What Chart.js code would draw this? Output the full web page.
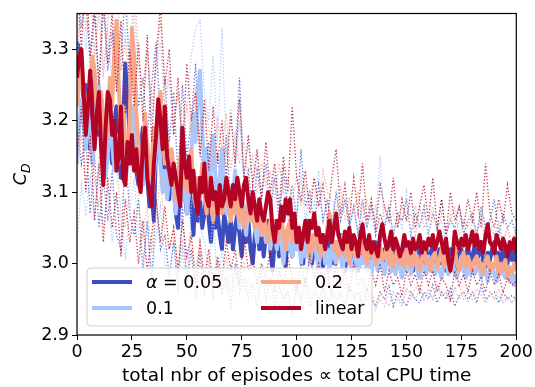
<!DOCTYPE html>
<html><head><meta charset="utf-8">
<script src="https://cdn.jsdelivr.net/npm/chart.js@4.4.1/dist/chart.umd.min.js"></script>
<style>html,body{margin:0;padding:0;background:#fff}#wrap{width:535px;height:387px;position:relative}</style>
</head><body><div id="wrap"><canvas id="c" width="535" height="387"></canvas></div>
<script>
// x values of the mean curves (every episode)
const episodes = [0,1,2,3,4,5,6,7,8,9,10,11,12,13,14,15,16,17,18,19,20,21,22,23,24,25,26,27,28,29,30,31,32,33,34,35,36,37,38,39,40,41,42,43,44,45,46,47,48,49,50,51,52,53,54,55,56,57,58,59,60,61,62,63,64,65,66,67,68,69,70,71,72,73,74,75,76,77,78,79,80,81,82,83,84,85,86,87,88,89,90,91,92,93,94,95,96,97,98,99,100,101,102,103,104,105,106,107,108,109,110,111,112,113,114,115,116,117,118,119,120,121,122,123,124,125,126,127,128,129,130,131,132,133,134,135,136,137,138,139,140,141,142,143,144,145,146,147,148,149,150,151,152,153,154,155,156,157,158,159,160,161,162,163,164,165,166,167,168,169,170,171,172,173,174,175,176,177,178,179,180,181,182,183,184,185,186,187,188,189,190,191,192,193,194,195,196,197,198,199,200];
// x values of the dotted min/max curves
const episodesDotted = [0,2,4,6,8,10,12,14,16,18,20,22,24,26,28,30,32,34,36,38,40,42,44,46,48,50,52,54,56,58,60,62,64,66,68,70,72,74,76,78,80,82,84,86,88,90,92,94,96,98,100,102,104,106,108,110,112,114,116,118,120,122,124,126,128,130,132,134,136,138,140,142,144,146,148,150,152,154,156,158,160,162,164,166,168,170,172,174,176,178,180,182,184,186,188,190,192,194,196,198,200];
const seriesNames = ['α = 0.05', '0.1', '0.2', 'linear'];
const xTicks = [0,25,50,75,100,125,150,175,200];
const yTicks = [2.9,3.0,3.1,3.2,3.3];

// alpha = 0.05
const mean005 = [3.31,3.30,3.28,3.22,3.25,3.19,3.16,3.23,3.26,3.20,
3.18,3.23,3.15,3.19,3.22,3.17,3.14,3.20,3.22,3.16,
3.12,3.20,3.28,3.23,3.18,3.14,3.17,3.13,3.11,3.16,
3.19,3.14,3.12,3.08,3.10,3.06,3.17,3.21,3.15,3.12,
3.16,3.13,3.09,3.14,3.11,3.07,3.05,3.12,3.19,3.10,
3.07,3.12,3.08,3.04,3.10,3.06,3.09,3.05,3.07,3.10,
3.06,3.03,3.08,3.05,3.07,3.04,3.02,3.07,3.05,3.03,
3.06,3.02,3.05,3.07,3.04,3.01,3.05,3.03,3.06,3.02,
3.00,3.04,3.06,3.02,3.05,3.01,3.04,3.06,3.02,2.99,
3.03,3.05,3.01,3.04,3.02,2.995,3.05,3.03,3.01,3.04,
3.02,3.05,3.03,3.00,3.04,3.06,3.02,3.00,3.03,3.01,
3.04,3.02,2.995,3.03,3.01,3.04,3.02,3.00,3.03,3.01,
3.04,3.02,2.99,3.02,3.04,3.00,3.02,3.01,2.99,3.03,
3.01,3.03,3.00,3.02,2.99,3.01,3.03,2.995,3.015,3.00,
3.02,3.00,3.03,2.99,3.01,3.02,2.995,3.015,3.00,3.025,
3.00,3.02,3.005,2.99,3.015,3.00,3.025,3.005,2.995,3.02,
3.00,3.015,3.025,2.995,3.01,3.02,3.00,3.015,2.99,3.005,
3.02,3.00,2.99,3.015,3.005,3.02,2.995,3.01,3.025,3.00,
3.01,3.025,3.00,3.015,3.03,3.00,2.995,3.015,3.005,3.02,
3.03,3.00,3.015,2.995,3.02,3.01,3.00,3.025,3.005,3.015,
3.00];
const max005 = [3.42,3.33,3.37,3.28,3.35,3.24,3.36,3.27,3.32,3.25,
3.29,3.38,3.27,3.30,3.22,3.26,3.18,3.25,3.31,3.20,
3.26,3.17,3.24,3.12,3.25,3.15,3.20,3.28,3.16,3.12,
3.17,3.09,3.15,3.10,3.18,3.08,3.14,3.26,3.11,3.13,
3.07,3.13,3.09,3.14,3.07,3.12,3.06,3.13,3.08,3.11,
3.06,3.16,3.08,3.10,3.05,3.11,3.06,3.09,3.05,3.10,
3.06,3.09,3.05,3.08,3.04,3.09,3.05,3.08,3.04,3.07,
3.05,3.08,3.04,3.07,3.06,3.09,3.04,3.07,3.05,3.08,
3.04,3.07,3.05,3.09,3.04,3.06,3.05,3.08,3.04,3.06,
3.07,3.04,3.08,3.05,3.06,3.09,3.04,3.07,3.05,3.06,
3.04];
const min005 = [3.20,3.14,3.18,3.07,3.15,3.05,3.12,3.06,3.13,3.04,
3.02,3.16,3.07,3.04,3.09,2.99,3.06,2.97,3.09,3.02,
3.04,2.98,3.03,2.96,3.08,2.97,3.02,2.95,3.01,2.96,
2.99,2.95,3.00,2.96,2.98,2.94,3.00,2.96,2.98,2.95,
2.97,2.94,2.99,2.95,2.98,2.94,2.97,2.95,2.96,2.93,
2.97,2.95,2.98,2.94,2.96,2.95,2.97,2.94,2.96,2.95,
2.96,2.94,2.97,2.95,2.96,2.94,2.965,2.95,2.94,2.96,
2.95,2.97,2.94,2.96,2.95,2.94,2.96,2.95,2.945,2.96,
2.95,2.97,2.945,2.96,2.95,2.965,2.94,2.955,2.96,2.95,
2.96,2.945,2.97,2.95,2.955,2.96,2.945,2.96,2.95,2.955,
2.95];

// alpha = 0.1
const mean01 = [3.14,3.19,3.23,3.20,3.16,3.21,3.18,3.14,3.17,3.22,
3.25,3.20,3.16,3.12,3.15,3.21,3.17,3.13,3.18,3.14,
3.19,3.15,3.11,3.14,3.18,3.22,3.19,3.15,3.12,3.16,
3.11,3.14,3.17,3.13,3.09,3.12,3.16,3.19,3.14,3.10,
3.13,3.09,3.12,3.15,3.10,3.07,3.11,3.14,3.09,3.12,
3.07,3.10,3.15,3.21,3.17,3.24,3.27,3.19,3.13,3.16,
3.10,3.13,3.18,3.12,3.08,3.12,3.16,3.10,3.07,3.11,
3.06,3.09,3.13,3.08,3.05,3.10,3.07,3.04,3.08,3.06,
3.09,3.05,3.03,3.07,3.04,3.06,3.03,3.05,3.02,3.06,
3.04,3.02,3.05,3.03,3.00,3.04,3.02,3.05,3.01,3.03,
3.02,3.04,3.00,3.03,3.01,3.035,3.00,3.02,3.04,3.01,
2.995,3.02,3.035,3.00,3.02,2.99,3.025,3.01,3.00,3.03,
3.01,2.99,3.02,3.005,3.015,2.99,3.00,3.025,2.995,3.01,
3.00,3.02,2.99,3.005,2.985,3.01,3.00,2.99,3.015,3.00,
2.985,3.005,3.015,2.99,3.00,2.985,3.01,2.995,2.98,3.00,
2.99,3.01,2.985,3.00,3.015,2.99,2.98,3.00,2.995,2.985,
3.01,2.99,3.00,2.985,3.005,2.99,2.98,3.00,3.01,2.985,
2.99,3.005,2.985,2.98,2.995,3.01,2.99,2.98,2.995,2.985,
3.00,2.985,2.99,3.005,2.98,2.995,2.99,2.975,2.99,3.00,
2.985,2.975,2.995,2.985,2.99,2.98,2.995,2.975,2.985,2.97,
2.985];
const max01 = [3.28,3.36,3.30,3.38,3.29,3.40,3.27,3.33,3.25,3.31,
3.27,3.33,3.24,3.36,3.26,3.22,3.30,3.20,3.27,3.31,
3.21,3.26,3.18,3.24,3.17,3.22,3.29,3.33,3.34,3.24,
3.20,3.29,3.17,3.33,3.15,3.22,3.13,3.20,3.12,3.17,
3.11,3.15,3.10,3.14,3.08,3.13,3.07,3.12,3.06,3.11,
3.07,3.12,3.06,3.10,3.08,3.13,3.06,3.09,3.05,3.10,
3.06,3.09,3.05,3.08,3.04,3.09,3.05,3.08,3.06,3.15,
3.05,3.08,3.04,3.07,3.05,3.10,3.04,3.08,3.05,3.07,
3.04,3.07,3.05,3.06,3.03,3.07,3.04,3.06,3.05,3.03,
3.06,3.04,3.07,3.03,3.06,3.04,3.05,3.03,3.05,3.02,
3.04];
const min01 = [3.03,3.11,3.07,3.12,3.06,3.15,3.05,3.10,3.03,3.09,
3.06,3.01,3.07,3.12,3.04,3.00,3.06,2.98,3.04,3.08,
3.00,2.98,3.03,2.97,3.02,2.96,3.08,3.13,3.05,3.03,
2.99,3.07,2.97,3.02,2.96,3.00,2.95,2.99,2.96,2.98,
2.95,2.98,2.94,2.97,2.95,2.96,2.94,2.97,2.95,2.93,
2.96,2.94,2.97,2.95,2.96,2.93,2.97,2.95,2.96,2.94,
2.96,2.94,2.97,2.95,2.96,2.94,2.95,2.96,2.935,2.95,
2.94,2.96,2.945,2.95,2.94,2.965,2.96,2.95,2.965,2.95,
2.96,2.95,2.97,2.955,2.96,2.945,2.965,2.95,2.96,2.945,
2.96,2.95,2.965,2.945,2.96,2.95,2.955,2.945,2.95,2.945,
2.955];

// alpha = 0.2
const mean02 = [3.22,3.25,3.28,3.24,3.19,3.23,3.26,3.29,3.27,3.21,
3.19,3.24,3.20,3.16,3.21,3.26,3.22,3.30,3.34,3.25,
3.18,3.22,3.17,3.14,3.20,3.33,3.29,3.21,3.17,3.13,
3.15,3.21,3.16,3.12,3.14,3.19,3.16,3.22,3.24,3.18,
3.14,3.17,3.12,3.16,3.13,3.09,3.12,3.15,3.11,3.14,
3.10,3.13,3.16,3.11,3.08,3.12,3.09,3.14,3.10,3.07,
3.12,3.09,3.06,3.10,3.08,3.11,3.07,3.09,3.12,3.08,
3.06,3.09,3.07,3.10,3.06,3.08,3.05,3.07,3.09,3.06,
3.07,3.05,3.08,3.06,3.04,3.07,3.05,3.03,3.06,3.04,
3.06,3.03,3.05,3.07,3.04,3.02,3.05,3.06,3.03,3.05,
3.03,3.05,3.02,3.04,3.06,3.03,3.01,3.04,3.02,3.05,
3.03,3.01,3.04,3.02,3.05,3.07,3.04,3.02,3.03,3.01,
3.02,3.04,3.01,3.03,3.00,3.02,3.035,3.01,3.03,3.015,
3.035,3.01,3.00,3.025,3.01,3.03,3.00,3.015,3.025,3.005,
3.01,3.025,3.00,3.02,2.995,3.01,3.02,3.00,3.015,2.995,
3.02,3.005,2.995,3.015,3.00,3.01,2.99,3.005,3.02,3.00,
3.005,2.99,3.01,3.015,2.995,3.005,3.02,2.995,3.01,3.00,
2.99,3.01,3.02,3.00,2.99,3.005,3.015,2.995,3.01,3.00,
2.99,3.005,3.01,2.995,3.00,2.985,3.005,3.01,2.99,3.00,
2.995,3.01,2.985,3.00,2.99,3.005,2.98,2.995,2.985,3.00,
2.99];
const max02 = [3.30,3.38,3.33,3.40,3.29,3.35,3.26,3.34,3.39,3.42,
3.27,3.31,3.24,3.41,3.28,3.25,3.30,3.22,3.28,3.34,
3.23,3.27,3.20,3.24,3.17,3.22,3.18,3.25,3.16,3.22,
3.19,3.14,3.20,3.16,3.21,3.13,3.18,3.14,3.17,3.12,
3.15,3.10,3.14,3.11,3.13,3.09,3.14,3.10,3.12,3.09,
3.12,3.08,3.11,3.09,3.12,3.08,3.13,3.10,3.09,3.07,
3.11,3.06,3.09,3.07,3.10,3.06,3.09,3.06,3.08,3.05,
3.08,3.06,3.07,3.05,3.08,3.06,3.07,3.04,3.08,3.05,
3.06,3.08,3.04,3.07,3.05,3.06,3.08,3.04,3.06,3.05,
3.07,3.04,3.06,3.03,3.05,3.04,3.06,3.03,3.05,3.03,
3.05];
const min02 = [3.13,3.18,3.10,3.16,3.12,3.08,3.13,3.17,3.22,3.14,
3.07,3.05,3.10,3.21,3.09,3.04,3.08,3.02,3.07,3.12,
3.04,3.02,3.05,2.99,3.03,2.98,3.04,2.99,3.03,2.97,
3.01,2.96,3.00,2.98,3.01,2.96,2.99,2.97,3.00,2.96,
2.98,2.96,2.97,2.95,2.98,2.96,2.97,2.95,2.98,2.96,
2.97,2.95,2.98,2.96,2.97,2.95,2.96,2.98,2.95,2.96,
2.95,2.97,2.95,2.96,2.94,2.97,2.95,2.96,2.94,2.96,
2.95,2.94,2.96,2.95,2.945,2.965,2.95,2.965,2.97,2.95,
2.965,2.95,2.97,2.955,2.96,2.95,2.965,2.97,2.95,2.96,
2.95,2.965,2.955,2.945,2.96,2.95,2.965,2.945,2.955,2.945,
2.95];

// linear
const meanLin = [3.26,3.29,3.30,3.24,3.18,3.22,3.27,3.21,3.16,3.21,
3.24,3.16,3.11,3.19,3.24,3.23,3.18,3.20,3.13,3.15,
3.22,3.12,3.11,3.17,3.14,3.18,3.13,3.16,3.12,3.10,
3.17,3.19,3.12,3.10,3.08,3.14,3.18,3.23,3.20,3.16,
3.22,3.15,3.13,3.11,3.14,3.12,3.10,3.08,3.19,3.14,
3.12,3.15,3.10,3.13,3.09,3.07,3.12,3.10,3.14,3.09,
3.08,3.12,3.09,3.10,3.07,3.11,3.08,3.09,3.12,3.10,
3.08,3.11,3.09,3.12,3.10,3.08,3.11,3.12,3.09,3.07,
3.10,3.08,3.06,3.09,3.07,3.06,3.08,3.10,3.09,3.05,
3.03,3.06,3.05,3.08,3.06,3.09,3.07,3.09,3.05,3.07,
3.03,3.05,3.02,3.04,3.06,3.03,3.06,3.05,3.07,3.04,
3.05,3.03,3.04,3.02,3.04,3.06,3.03,3.05,3.07,3.04,
3.03,3.02,3.045,3.03,3.05,3.02,3.04,3.03,3.01,3.04,
3.055,3.03,3.02,3.04,3.015,3.03,3.02,3.01,3.04,3.055,
3.035,3.02,3.03,3.045,3.02,3.035,3.025,3.01,3.02,3.04,
3.025,3.03,3.015,3.035,3.02,3.025,3.04,3.015,3.03,3.02,
3.035,3.025,3.04,3.02,3.03,3.045,3.03,3.015,3.035,3.005,
2.99,3.01,3.045,3.03,3.02,3.035,3.025,3.04,3.02,3.03,
3.045,3.025,3.04,3.02,3.03,3.015,3.04,3.055,3.03,3.025,
3.015,3.04,3.03,3.02,3.035,3.025,3.01,3.03,3.02,3.035,
3.015];
const maxLin = [3.40,3.30,3.42,3.29,3.36,3.25,3.38,3.28,3.35,3.24,
3.34,3.21,3.30,3.22,3.31,3.20,3.32,3.17,3.29,3.36,
3.25,3.30,3.18,3.26,3.16,3.28,3.20,3.24,3.15,3.23,
3.13,3.22,3.14,3.20,3.12,3.21,3.14,3.23,3.12,3.18,
3.11,3.16,3.09,3.17,3.10,3.14,3.08,3.15,3.10,3.22,
3.12,3.09,3.13,3.07,3.12,3.08,3.11,3.06,3.12,3.16,
3.07,3.11,3.06,3.12,3.07,3.14,3.06,3.09,3.05,3.11,
3.08,3.06,3.12,3.05,3.09,3.06,3.10,3.05,3.08,3.11,
3.06,3.12,3.05,3.09,3.04,3.10,3.06,3.08,3.05,3.09,
3.06,3.10,3.05,3.14,3.07,3.05,3.09,3.06,3.11,3.07,
3.06];
const minLin = [3.15,3.22,3.10,3.18,3.06,3.14,3.03,3.12,3.05,3.10,
3.01,3.09,3.03,3.07,3.00,3.06,2.99,3.04,3.09,3.03,
3.08,3.02,3.05,2.99,3.06,3.01,3.04,2.97,3.03,2.98,
3.02,2.97,3.01,2.98,3.03,2.99,3.02,2.97,3.04,2.99,
3.01,2.97,3.00,2.98,3.02,2.96,2.99,2.97,3.01,2.98,
2.96,3.00,2.97,3.01,2.98,3.00,2.97,2.99,2.96,3.00,
2.97,2.99,2.96,3.00,2.97,2.98,2.96,2.99,2.97,3.00,
2.96,2.99,2.97,2.98,2.955,2.99,2.97,2.985,2.96,2.99,
2.97,2.99,2.96,2.98,2.97,2.95,2.99,2.97,2.985,2.96,
2.99,2.97,2.98,2.96,2.99,2.97,2.985,2.96,2.98,2.97,
2.975];

const colors = ['#3b4cc0', '#aac7fd', '#f7a889', '#b40426'];
const dotColors = ['rgba(59,76,192,0.8)', 'rgba(170,199,253,0.9)', 'rgba(247,168,137,0.9)', 'rgba(180,4,38,0.8)'];
const meanSets = [mean005, mean01, mean02, meanLin];
const maxSets = [max005, max01, max02, maxLin];
const minSets = [min005, min01, min02, minLin];

const pts = (xs, arr) => xs.map((e, i) => ({x: e, y: arr[i]}));
let datasets = [];
for (let s = 0; s < 4; s++) {
  datasets.push({label: seriesNames[s], data: pts(episodes, meanSets[s]), borderColor: colors[s], borderWidth: 4, pointRadius: 0, tension: 0, clip: 0, borderJoinStyle: 'round'});
  datasets.push({label: seriesNames[s] + ' max', data: pts(episodesDotted, maxSets[s]), borderColor: dotColors[s], borderWidth: 1.3, borderDash: [1.3, 2.0], pointRadius: 0, tension: 0, clip: 0});
  datasets.push({label: seriesNames[s] + ' min', data: pts(episodesDotted, minSets[s]), borderColor: dotColors[s], borderWidth: 1.3, borderDash: [1.3, 2.0], pointRadius: 0, tension: 0, clip: 0});
}
datasets = datasets.reverse();

const FONT = "'DejaVu Sans', sans-serif";
const extras = {
  id: 'extras',
  afterDatasetsDraw(chart) {
    const ctx = chart.ctx, a = chart.chartArea;
    ctx.save();
    ctx.strokeStyle = '#000'; ctx.lineWidth = 1.2;
    ctx.strokeRect(a.left, a.top, a.right - a.left, a.bottom - a.top);
    const bx = 87, by = 268, bw = 285, bh = 58, r = 4;
    ctx.beginPath();
    ctx.moveTo(bx + r, by); ctx.lineTo(bx + bw - r, by); ctx.quadraticCurveTo(bx + bw, by, bx + bw, by + r);
    ctx.lineTo(bx + bw, by + bh - r); ctx.quadraticCurveTo(bx + bw, by + bh, bx + bw - r, by + bh);
    ctx.lineTo(bx + r, by + bh); ctx.quadraticCurveTo(bx, by + bh, bx, by + bh - r);
    ctx.lineTo(bx, by + r); ctx.quadraticCurveTo(bx, by, bx + r, by);
    ctx.closePath();
    ctx.fillStyle = 'rgba(255,255,255,0.8)'; ctx.fill();
    ctx.strokeStyle = '#d0d0d0'; ctx.lineWidth = 1; ctx.stroke();
    const entries = [[0, 92, 282], [1, 92, 308], [2, 261, 282], [3, 261, 308]];
    ctx.textBaseline = 'middle';
    for (const [s, lx, ly] of entries) {
      ctx.strokeStyle = colors[s]; ctx.lineWidth = 4; ctx.setLineDash([]);
      ctx.beginPath(); ctx.moveTo(lx, ly); ctx.lineTo(lx + 40, ly); ctx.stroke();
      ctx.fillStyle = '#000';
      let tx = lx + 54;
      if (s === 0) {
        ctx.font = "italic 17.5px " + FONT;
        ctx.fillText('α', tx, ly + 1);
        tx += ctx.measureText('α').width;
        ctx.font = "17.5px " + FONT;
        ctx.fillText(' = 0.05', tx, ly + 1);
      } else {
        ctx.font = "17.5px " + FONT;
        ctx.fillText(seriesNames[s], tx, ly + 1);
      }
    }
    ctx.translate(26, (a.top + a.bottom) / 2);
    ctx.rotate(-Math.PI / 2);
    ctx.textBaseline = 'alphabetic';
    ctx.font = "italic 17.5px " + FONT;
    const wC = ctx.measureText('C').width;
    ctx.font = "italic 12.5px " + FONT;
    const wD = ctx.measureText('D').width;
    const x0 = -(wC + wD) / 2;
    ctx.font = "italic 17.5px " + FONT;
    ctx.fillText('C', x0, 0);
    ctx.font = "italic 12.5px " + FONT;
    ctx.fillText('D', x0 + wC, 4);
    ctx.restore();
  }
};

new Chart(document.getElementById('c'), {
  type: 'line',
  data: {datasets},
  options: {
    responsive: false, animation: false, devicePixelRatio: 1,
    layout: {padding: {left: 0, top: 8, right: 17, bottom: 0}},
    plugins: {legend: {display: false}, tooltip: {enabled: false}},
    scales: {
      x: {
        type: 'linear', min: 0, max: 200,
        afterFit(axis) { axis.height = 52; },
        afterBuildTicks(axis) { axis.ticks = xTicks.map(v => ({value: v})); },
        grid: {display: true, drawOnChartArea: false, drawTicks: true, tickLength: 5, color: '#000', lineWidth: 1},
        border: {display: false},
        ticks: {color: '#000', font: {family: FONT, size: 17.5}, padding: 2, maxRotation: 0, autoSkip: false},
        title: {display: true, text: 'total nbr of episodes \u221d total CPU time', color: '#000', font: {family: FONT, size: 18.5}, padding: {top: 0, bottom: 0}}
      },
      y: {
        type: 'linear', min: 2.9, max: 3.35,
        afterFit(axis) { axis.width = 77; },
        afterBuildTicks(axis) { axis.ticks = yTicks.map(v => ({value: v})); },
        grid: {display: true, drawOnChartArea: false, drawTicks: true, tickLength: 5, color: '#000', lineWidth: 1},
        border: {display: false},
        ticks: {color: '#000', font: {family: FONT, size: 17.5}, padding: 3, autoSkip: false, callback: v => v.toFixed(1)}
      }
    }
  },
  plugins: [extras]
});
</script></body></html>
